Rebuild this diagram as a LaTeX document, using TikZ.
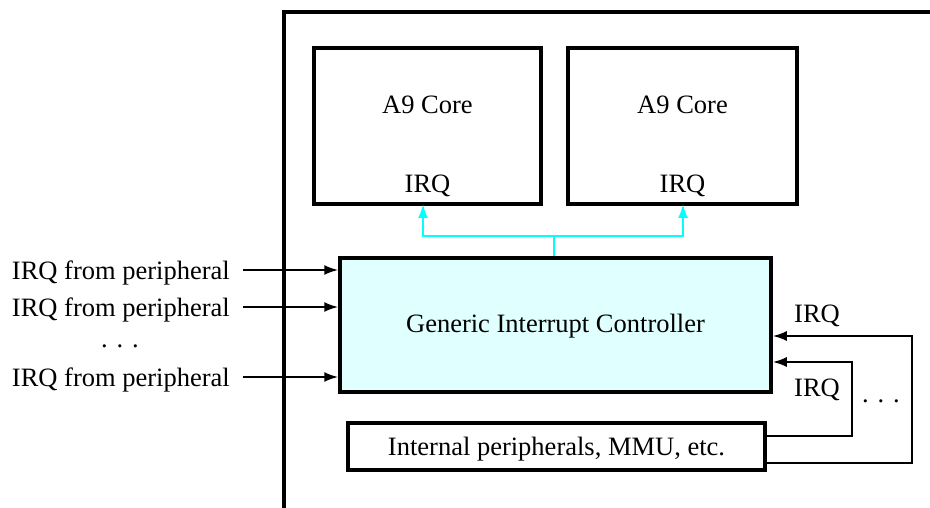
\documentclass[tikz,border=0pt]{standalone}
\usepackage{fontspec}
\setmainfont{Liberation Serif}
\usetikzlibrary{arrows.meta}
\definecolor{gicfill}{RGB}{224,255,255}
\definecolor{purecyan}{RGB}{0,255,255}
\begin{document}
\begin{tikzpicture}[x=1pt,y=-1pt,
  box/.style={draw,line width=3.5pt,inner sep=0pt},
  lbl/.style={font=\fontsize{26.5}{30}\selectfont,inner sep=0pt},
  arr/.style={line width=2pt,-{Latex[length=14pt,width=10pt]}},
  cline/.style={draw=purecyan,line width=2.2pt},
  carr/.style={draw=purecyan,line width=2.2pt,-{Latex[length=14pt,width=10pt]}}]
\useasboundingbox (0,0) rectangle (930,508);
% chip frame
\coordinate (fb) at (284,510);
\coordinate (fc) at (284,12);
\coordinate (fr) at (932,12);
\draw[line width=3.5pt] (fb) -- (fc) -- (fr);
% cores
\node[box,minimum width=227pt,minimum height=156pt] (c1) at (427.5,126) {};
\node[box,minimum width=229pt,minimum height=156pt] (c2) at (682.5,126) {};
\node[lbl,anchor=base] (c1t) at (427.5,114) {A9 Core};
\node[lbl,anchor=base] (c1i) at (427.5,193) {IRQ};
\node[lbl,anchor=base] (c2t) at (682.5,114) {A9 Core};
\node[lbl,anchor=base] (c2i) at (682.5,193) {IRQ};
% GIC
\node[box,fill=gicfill,minimum width=431pt,minimum height=134pt] (gic) at (555.5,325) {};
\node[lbl,anchor=base] (gict) at (555.5,332) {Generic Interrupt Controller};
% internal peripherals
\node[box,minimum width=417pt,minimum height=47pt] (per) at (556.5,446.5) {};
\node[lbl,anchor=base] (pert) at (556.5,455) {Internal peripherals, MMU, etc.};
% cyan connectors
\coordinate (j) at (554,236);
\coordinate (a1) at (423,204);
\coordinate (a2) at (683,204);
\draw[cline] (gic.north -| j) -- (j);
\draw[carr] (j) -| (a1);
\draw[carr] (j) -| (a2);
% left inputs
\coordinate (s1) at (243,270);
\coordinate (s2) at (243,307);
\coordinate (s3) at (243,377);
\draw[arr] (s1) -- (s1 -| gic.west);
\draw[arr] (s2) -- (s2 -| gic.west);
\draw[arr] (s3) -- (s3 -| gic.west);
\node[lbl,anchor=base east] (l1) at (230,279) {IRQ from peripheral};
\node[lbl,anchor=base east] (l2) at (230,316) {IRQ from peripheral};
\node[lbl,anchor=base] (ld) at (120,347) {.\,\,.\,\,.};
\node[lbl,anchor=base east] (l3) at (230,386) {IRQ from peripheral};
% right feedback
\coordinate (r1) at (852,436);
\coordinate (r2) at (852,362);
\coordinate (r3) at (912,463);
\coordinate (r4) at (912,336);
\draw[arr] (per.east |- r1) -- (r1) -- (r2) -- (r2 -| gic.east);
\draw[arr] (per.east |- r3) -- (r3) -- (r4) -- (r4 -| gic.east);
\node[lbl,anchor=base] (ri1) at (817,322) {IRQ};
\node[lbl,anchor=base] (ri2) at (817,396) {IRQ};
\node[lbl,anchor=base] (rd) at (881,402) {.\,\,.\,\,.};
\end{tikzpicture}
\end{document}
